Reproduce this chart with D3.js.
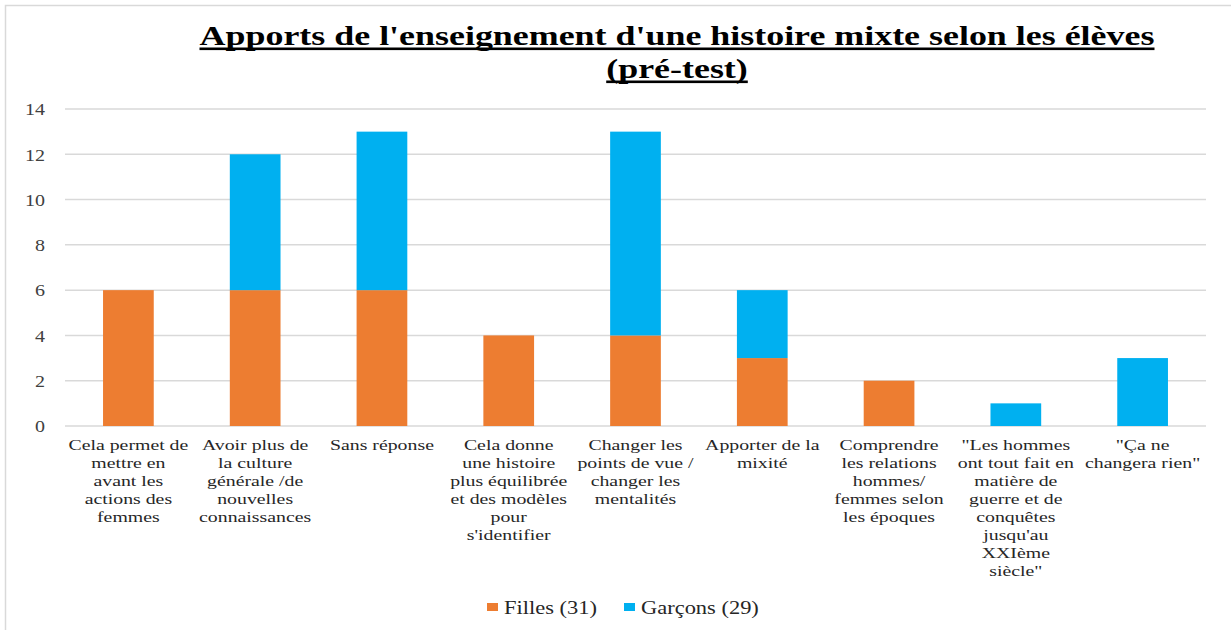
<!DOCTYPE html>
<html><head><meta charset="utf-8">
<script src="https://cdn.jsdelivr.net/npm/d3@7/dist/d3.min.js"></script>
<style>
body{margin:0;background:#fff;}
svg{display:block;}
</style></head>
<body>
<svg id="c" width="1231" height="630"></svg>
<script>
const categories = [
  ["Cela permet de","mettre en","avant les","actions des","femmes"],
  ["Avoir plus de","la culture","générale /de","nouvelles","connaissances"],
  ["Sans réponse"],
  ["Cela donne","une histoire","plus équilibrée","et des modèles","pour","s'identifier"],
  ["Changer les","points de vue /","changer les","mentalités"],
  ["Apporter de la","mixité"],
  ["Comprendre","les relations","hommes/","femmes selon","les époques"],
  ["\"Les hommes","ont tout fait en","matière de","guerre et de","conquêtes","jusqu'au","XXIème","siècle\""],
  ["\"Ça ne","changera rien\""]
];
const filles = [6,6,6,4,4,3,2,0,0];
const garcons = [0,6,7,0,9,3,0,1,3];
const seriesNames = ["Filles (31)","Garçons (29)"];
const yTicks = [0,2,4,6,8,10,12,14];
const titleLines = ["Apports de l'enseignement d'une histoire mixte selon les élèves","(pré-test)"];

const colors = ["#ED7D31","#00B0F0"];
const svg = d3.select("#c");
const FONT = "Liberation Serif, Times New Roman, serif";

function measure(str, size, weight){
  const t = svg.append("text").style("font-family",FONT).style("font-size",size+"px")
    .style("font-weight",weight||"normal").text(str);
  const w = t.node().getComputedTextLength();
  t.remove();
  return w;
}
function stretched(parent, ax, k){
  return parent.append("g").attr("transform",`translate(${ax},0) scale(${k},1) translate(${-ax},0)`);
}

// outer border
svg.append("rect").attr("x",5.5).attr("y",5.5).attr("width",1240).attr("height",640)
  .attr("fill","none").attr("stroke","#D9D9D9").attr("stroke-width",1.5);

const x = d3.scaleBand().domain(d3.range(categories.length)).range([65,1206]).paddingInner(0.6).paddingOuter(0.3);
const y = d3.scaleLinear().domain([0,14]).range([426,109]);

// gridlines
svg.append("g").selectAll("line").data(yTicks).join("line")
  .attr("x1",65).attr("x2",1206)
  .attr("y1",d=>y(d)).attr("y2",d=>y(d))
  .attr("stroke","#D9D9D9").attr("stroke-width",1.5);

// y tick labels
const kTick = 20 / measure("14",16);
const gyWrap = stretched(svg, 45, kTick);
const yAxis = d3.axisLeft(y).tickValues(yTicks).tickSize(0).tickPadding(0);
const gy = gyWrap.append("g").attr("transform","translate(45,0)").call(yAxis);
gy.select(".domain").remove();
gy.selectAll("text").style("font-family",FONT).style("font-size","16px").attr("fill","#404040").attr("dy","0.36em");

// stacked bars
const data = categories.map((c,i)=>({i, f:filles[i], g:garcons[i]}));
const stack = d3.stack().keys(["f","g"])(data);
svg.append("g").selectAll("g").data(stack).join("g")
  .attr("fill",(d,i)=>colors[i])
  .selectAll("rect").data(d=>d).join("rect")
  .attr("x",d=>x(d.data.i))
  .attr("width",x.bandwidth())
  .attr("y",d=>y(d[1]))
  .attr("height",d=>y(d[0])-y(d[1]));

// category labels
const kLab = 120 / measure("Cela permet de",15);
const lab = svg.append("g");
categories.forEach((lines,i)=>{
  const cx = x(i)+x.bandwidth()/2;
  const t = stretched(lab, cx, kLab).append("text").attr("text-anchor","middle")
    .style("font-family",FONT).style("font-size","15px").attr("fill","#262626");
  lines.forEach((l,j)=>{
    t.append("tspan").attr("x",cx).attr("y",450+j*18).text(l);
  });
});

// title with thick underline
const kTitle = 955 / measure(titleLines[0],27,"bold");
const titleBase = [45,78];
titleLines.forEach((l,j)=>{
  const w = measure(l,27,"bold")*kTitle;
  stretched(svg, 677, kTitle).append("text").attr("x",677).attr("y",titleBase[j]).attr("text-anchor","middle")
    .style("font-family",FONT).style("font-size","27px").style("font-weight","bold")
    .attr("fill","#000").text(l);
  svg.append("rect").attr("x",677-w/2).attr("y",titleBase[j]+2.5).attr("width",w).attr("height",2.6).attr("fill","#000");
});

// legend
const kLeg = 93 / measure(seriesNames[0],18);
const leg = svg.append("g");
const legX = [487,624];
seriesNames.forEach((n,i)=>{
  leg.append("rect").attr("x",legX[i]).attr("y",603).attr("width",11).attr("height",8).attr("fill",colors[i]);
  stretched(leg, legX[i]+17, kLeg).append("text").attr("x",legX[i]+17).attr("y",614)
    .style("font-family",FONT).style("font-size","18px")
    .attr("fill","#262626").text(n);
});
</script>
</body></html>
